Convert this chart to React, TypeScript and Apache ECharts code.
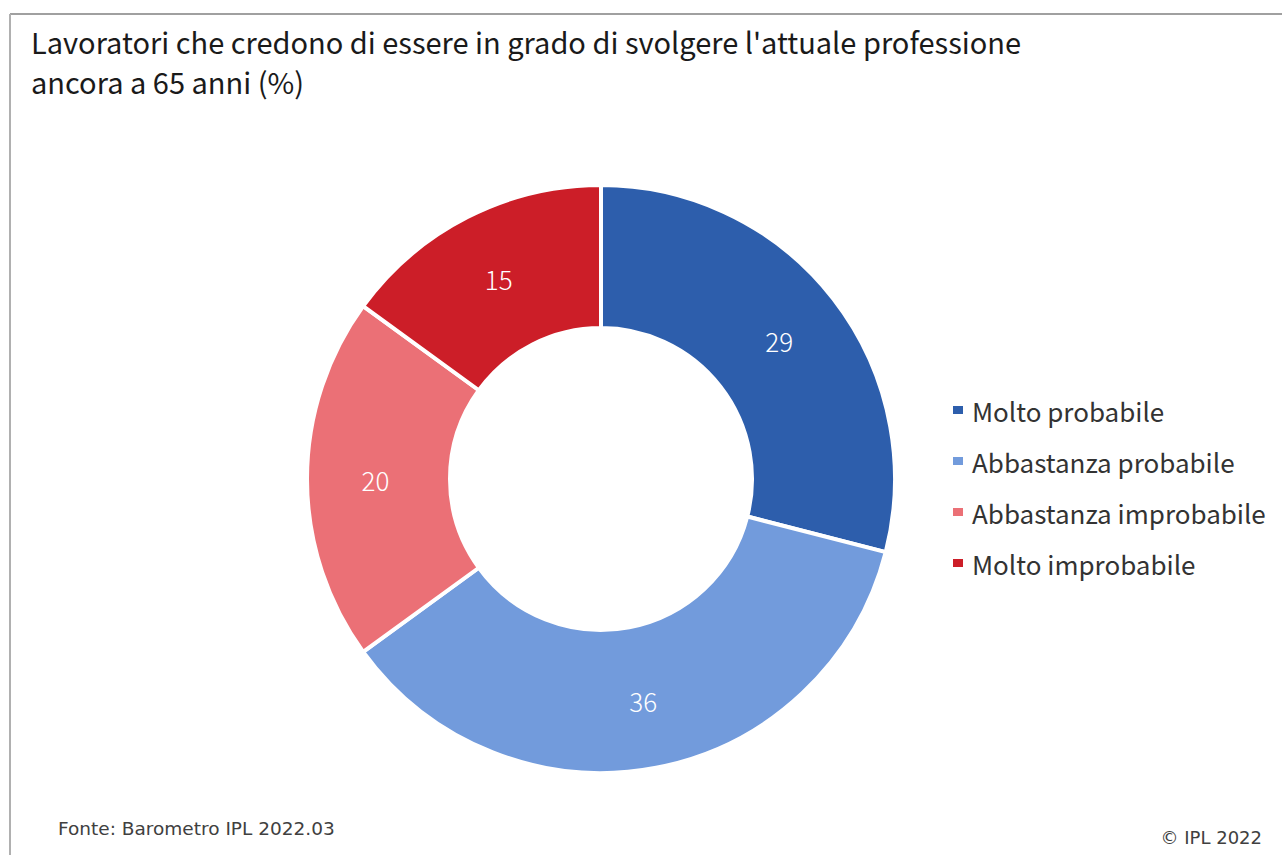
import React, { useEffect, useRef } from "react";
import * as echarts from "echarts";

const categories = ["Molto probabile", "Abbastanza probabile", "Abbastanza improbabile", "Molto improbabile"];
const values = [29, 36, 20, 15];
const colors = ["#2D5EAC", "#729BDC", "#EB7076", "#CC1E28"];

const titleText = "Lavoratori che credono di essere in grado di svolgere l'attuale professione\nancora a 65 anni (%)";
const sourceText = "Fonte: Barometro IPL 2022.03";
const copyrightText = "© IPL 2022";

export default function App() {
  const ref = useRef<HTMLDivElement>(null);
  useEffect(() => {
    if (!ref.current) return;
    const chart = echarts.init(ref.current, null, { renderer: "svg" });
    const font = "'Noto Sans CJK JP', 'Noto Sans', sans-serif";
    chart.setOption({
      animation: false,
      backgroundColor: "#ffffff",
      title: {
        text: titleText,
        left: 31,
        top: 21,
        padding: 0,
        textStyle: {
          fontFamily: font,
          fontSize: 29,
          fontWeight: 400,
          color: "#1a1a1a",
          lineHeight: 40,
        },
      },
      legend: {
        orient: "vertical",
        left: 951,
        top: 397,
        padding: 0,
        itemWidth: 12,
        itemHeight: 10,
        itemGap: 25,
        icon: "rect",
        data: categories,
        textStyle: {
          fontFamily: font,
          fontSize: 26,
          fontWeight: 400,
          color: "#333333",
          lineHeight: 24,
          height: 24,
          padding: [0, 0, 0, 3],
        },
      },
      graphic: [
        {
          type: "line",
          shape: { x1: 10, y1: 14, x2: 1282, y2: 14 },
          style: { stroke: "#a0a0a0", lineWidth: 2 },
        },
        {
          type: "line",
          shape: { x1: 10, y1: 14, x2: 10, y2: 855 },
          style: { stroke: "#b0b0b0", lineWidth: 2 },
        },
        {
          type: "text",
          left: 58,
          top: 819,
          style: {
            text: sourceText,
            font: "400 18.5px 'DejaVu Sans', sans-serif",
            fill: "#404040",
          },
        },
        {
          type: "text",
          right: 20,
          top: 828,
          style: {
            text: copyrightText,
            font: "400 18px 'DejaVu Sans', sans-serif",
            fill: "#404040",
          },
        },
      ],
      series: [
        {
          type: "pie",
          center: [601, 479],
          radius: [151, 294],
          startAngle: 90,
          clockwise: true,
          avoidLabelOverlap: false,
          itemStyle: { borderColor: "#ffffff", borderWidth: 4 },
          label: {
            show: true,
            position: "inside",
            formatter: "{c}",
            fontFamily: font,
            fontSize: 26,
            fontWeight: 300,
            color: "#ffffff",
          },
          labelLine: { show: false },
          emphasis: { disabled: true },
          data: categories.map((name, i) => ({
            name,
            value: values[i],
            itemStyle: { color: colors[i] },
          })),
        },
      ],
    });
    return () => chart.dispose();
  }, []);
  return (
    <div
      ref={ref}
      style={{ position: "fixed", left: 0, top: 0, width: 1282, height: 855 }}
    />
  );
}
